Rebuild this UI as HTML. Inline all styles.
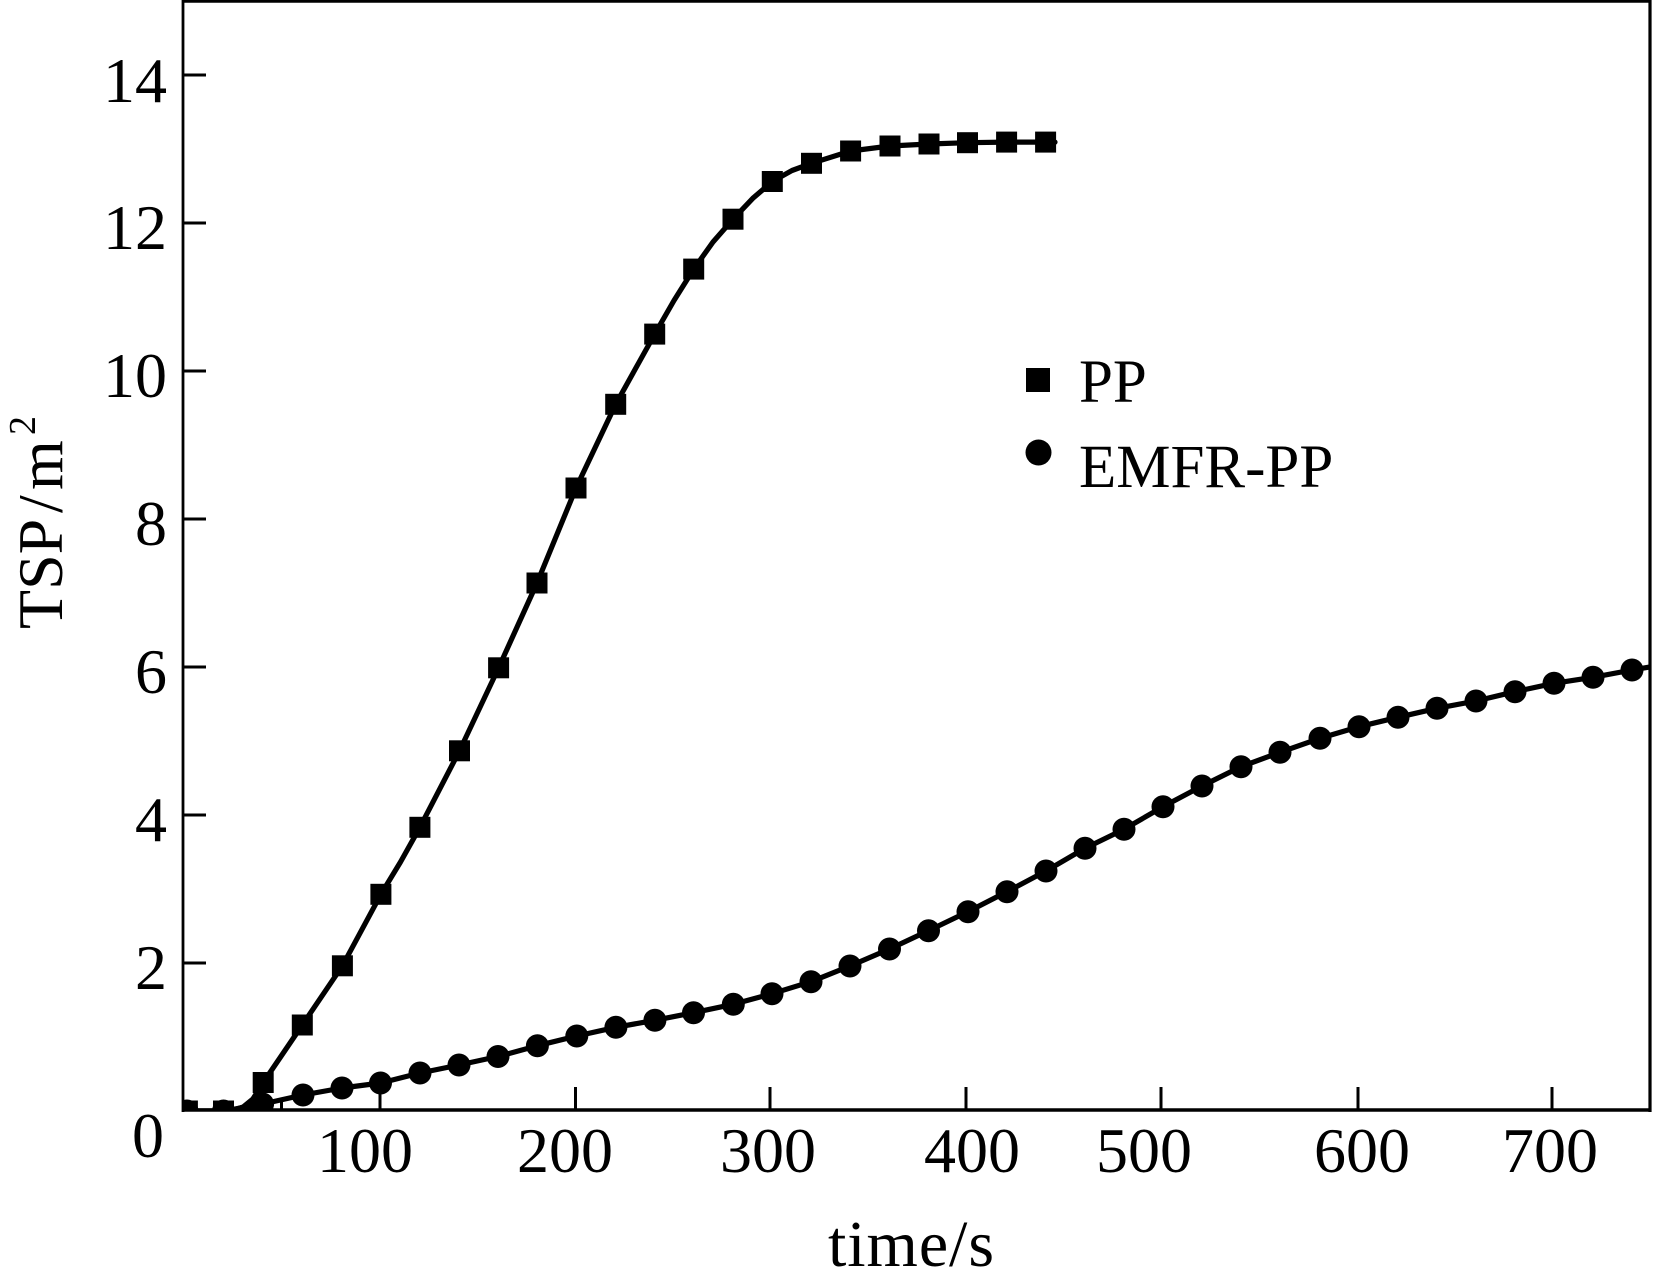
<!DOCTYPE html>
<html>
<head>
<meta charset="utf-8">
<style>
html,body{margin:0;padding:0;background:#fff;}
svg{display:block;}
text{font-family:"Liberation Serif","Times New Roman",serif;fill:#000;}
</style>
</head>
<body>
<svg width="1653" height="1282" viewBox="0 0 1653 1282" xmlns="http://www.w3.org/2000/svg">
<defs>
<clipPath id="plot"><rect x="184" y="2" width="1465" height="1108"/></clipPath>
</defs>
<rect x="0" y="0" width="1653" height="1282" fill="#fff"/>

<!-- frame -->
<line x1="183" y1="0" x2="183" y2="1112" stroke="#000" stroke-width="2.8"/>
<line x1="182" y1="1.4" x2="1651.5" y2="1.4" stroke="#000" stroke-width="2.8"/>
<line x1="1650" y1="0" x2="1650" y2="1112" stroke="#000" stroke-width="3.2"/>
<line x1="182" y1="1110" x2="1651.5" y2="1110" stroke="#000" stroke-width="3.4"/>

<!-- y ticks -->
<g stroke="#000" stroke-width="3">
<line x1="184" y1="963" x2="206" y2="963"/>
<line x1="184" y1="815" x2="206" y2="815"/>
<line x1="184" y1="667" x2="206" y2="667"/>
<line x1="184" y1="519" x2="206" y2="519"/>
<line x1="184" y1="371" x2="206" y2="371"/>
<line x1="184" y1="223" x2="206" y2="223"/>
<line x1="184" y1="75" x2="206" y2="75"/>
</g>
<!-- x ticks -->
<g stroke="#000" stroke-width="3">
<line x1="281.5" y1="1101" x2="281.5" y2="1110"/>
<line x1="380" y1="1087" x2="380" y2="1110"/>
<line x1="575.5" y1="1087" x2="575.5" y2="1110"/>
<line x1="770" y1="1087" x2="770" y2="1110"/>
<line x1="966" y1="1087" x2="966" y2="1110"/>
<line x1="1161" y1="1087" x2="1161" y2="1110"/>
<line x1="1358" y1="1087" x2="1358" y2="1110"/>
<line x1="1552" y1="1087" x2="1552" y2="1110"/>
</g>

<!-- y tick labels -->
<g font-size="64" text-anchor="end">
<text x="167" y="102">14</text>
<text x="167" y="249">12</text>
<text x="167" y="397">10</text>
<text x="167" y="545">8</text>
<text x="167" y="693">6</text>
<text x="167" y="841">4</text>
<text x="167" y="989">2</text>
<text x="164" y="1157">0</text>
</g>

<!-- x tick labels -->
<g font-size="64" text-anchor="middle">
<text x="365" y="1172">100</text>
<text x="565" y="1172">200</text>
<text x="768" y="1172">300</text>
<text x="972" y="1172">400</text>
<text x="1144" y="1172">500</text>
<text x="1362" y="1172">600</text>
<text x="1550" y="1172">700</text>
</g>

<!-- axis titles -->
<text x="828" y="1266" font-size="66" textLength="166" lengthAdjust="spacing">time/s</text>
<g transform="translate(62,629) rotate(-90)">
<text x="0" y="0" font-size="64">TSP</text>
<text x="116" y="0" font-size="64">/</text>
<text x="139" y="0" font-size="64">m</text>
<text x="194" y="-27" font-size="38">2</text>
</g>

<!-- legend -->
<rect x="1026" y="368" width="24" height="24" fill="#000"/>
<circle cx="1038.5" cy="452.5" r="13" fill="#000"/>
<text x="1079" y="402" font-size="61">PP</text>
<text x="1079" y="487" font-size="61">EMFR-PP</text>

<g clip-path="url(#plot)">
<!-- PP curve -->
<polyline fill="none" stroke="#000" stroke-width="5.2" stroke-linejoin="round" stroke-linecap="round"
points="184.4,1111 223.5,1111 233.3,1110 243.1,1107 252.9,1099 263.2,1082.5 302.3,1025 342.4,965.8 380.9,894.3 400.5,862 419.9,827.3 459.5,750.8 498.6,667.8 537,583 576,488 615.7,404.3 654.7,334.1 674,300.5 693.7,269.1 713,242 733,219.2 752.7,198.4 772.3,181.5 792,170.5 811.5,163.3 850.6,151 890,146 929,144 967.5,142.7 1006.6,142.1 1045.6,142.1 1055,142.1"/>
<!-- EMFR-PP curve -->
<polyline fill="none" stroke="#000" stroke-width="5.2" stroke-linejoin="round" stroke-linecap="round"
points="184.4,1111 223.5,1111 262.6,1104 303,1095 342,1088 380.5,1083 420,1073 459,1065 498,1056.5 537.4,1045.7 576.8,1036 615.9,1027.3 654.9,1020.3 693.5,1012.7 733.3,1004.3 772,993.7 811,981.7 850,966 889.5,949 928.5,930.7 968,911.7 1007,891.7 1046,871 1085,848.3 1124,829.3 1163,806.7 1202,786 1241,766.7 1280,752.3 1320,738.3 1359,726.7 1398,717.3 1437,708.3 1476,701 1515,691.7 1554,683.3 1593,677.3 1632,670 1650,667"/>

<!-- PP markers -->
<g fill="#000">
<rect x="176.9" y="1100.5" width="21" height="21"/>
<rect x="213" y="1100.5" width="21" height="21"/>
<rect x="252.7" y="1072" width="21" height="21"/>
<rect x="291.8" y="1014.5" width="21" height="21"/>
<rect x="331.9" y="955.3" width="21" height="21"/>
<rect x="370.4" y="883.8" width="21" height="21"/>
<rect x="409.4" y="816.8" width="21" height="21"/>
<rect x="449" y="740.3" width="21" height="21"/>
<rect x="488.1" y="657.3" width="21" height="21"/>
<rect x="526.5" y="572.5" width="21" height="21"/>
<rect x="565.5" y="477.5" width="21" height="21"/>
<rect x="605.2" y="393.8" width="21" height="21"/>
<rect x="644.2" y="323.6" width="21" height="21"/>
<rect x="683.2" y="258.6" width="21" height="21"/>
<rect x="722.5" y="208.7" width="21" height="21"/>
<rect x="761.8" y="171" width="21" height="21"/>
<rect x="801" y="152.8" width="21" height="21"/>
<rect x="840.1" y="140.5" width="21" height="21"/>
<rect x="879.5" y="135.5" width="21" height="21"/>
<rect x="918.5" y="133.5" width="21" height="21"/>
<rect x="957" y="132.2" width="21" height="21"/>
<rect x="996.1" y="131.6" width="21" height="21"/>
<rect x="1035.1" y="131.6" width="21" height="21"/>
</g>

<!-- EMFR-PP markers -->
<g fill="#000">
<circle cx="187" cy="1111" r="11.5"/>
<circle cx="223.5" cy="1111" r="11.5"/>
<circle cx="262.6" cy="1104" r="11.5"/>
<circle cx="303" cy="1095" r="11.5"/>
<circle cx="342" cy="1088" r="11.5"/>
<circle cx="380.5" cy="1083" r="11.5"/>
<circle cx="420" cy="1073" r="11.5"/>
<circle cx="459" cy="1065" r="11.5"/>
<circle cx="498" cy="1056.5" r="11.5"/>
<circle cx="537.4" cy="1045.7" r="11.5"/>
<circle cx="576.8" cy="1036" r="11.5"/>
<circle cx="615.9" cy="1027.3" r="11.5"/>
<circle cx="654.9" cy="1020.3" r="11.5"/>
<circle cx="693.5" cy="1012.7" r="11.5"/>
<circle cx="733.3" cy="1004.3" r="11.5"/>
<circle cx="772" cy="993.7" r="11.5"/>
<circle cx="811" cy="981.7" r="11.5"/>
<circle cx="850" cy="966" r="11.5"/>
<circle cx="889.5" cy="949" r="11.5"/>
<circle cx="928.5" cy="930.7" r="11.5"/>
<circle cx="968" cy="911.7" r="11.5"/>
<circle cx="1007" cy="891.7" r="11.5"/>
<circle cx="1046" cy="871" r="11.5"/>
<circle cx="1085" cy="848.3" r="11.5"/>
<circle cx="1124" cy="829.3" r="11.5"/>
<circle cx="1163" cy="806.7" r="11.5"/>
<circle cx="1202" cy="786" r="11.5"/>
<circle cx="1241" cy="766.7" r="11.5"/>
<circle cx="1280" cy="752.3" r="11.5"/>
<circle cx="1320" cy="738.3" r="11.5"/>
<circle cx="1359" cy="726.7" r="11.5"/>
<circle cx="1398" cy="717.3" r="11.5"/>
<circle cx="1437" cy="708.3" r="11.5"/>
<circle cx="1476" cy="701" r="11.5"/>
<circle cx="1515" cy="691.7" r="11.5"/>
<circle cx="1554" cy="683.3" r="11.5"/>
<circle cx="1593" cy="677.3" r="11.5"/>
<circle cx="1632" cy="670" r="11.5"/>
</g>
</g>
</svg>
</body>
</html>
